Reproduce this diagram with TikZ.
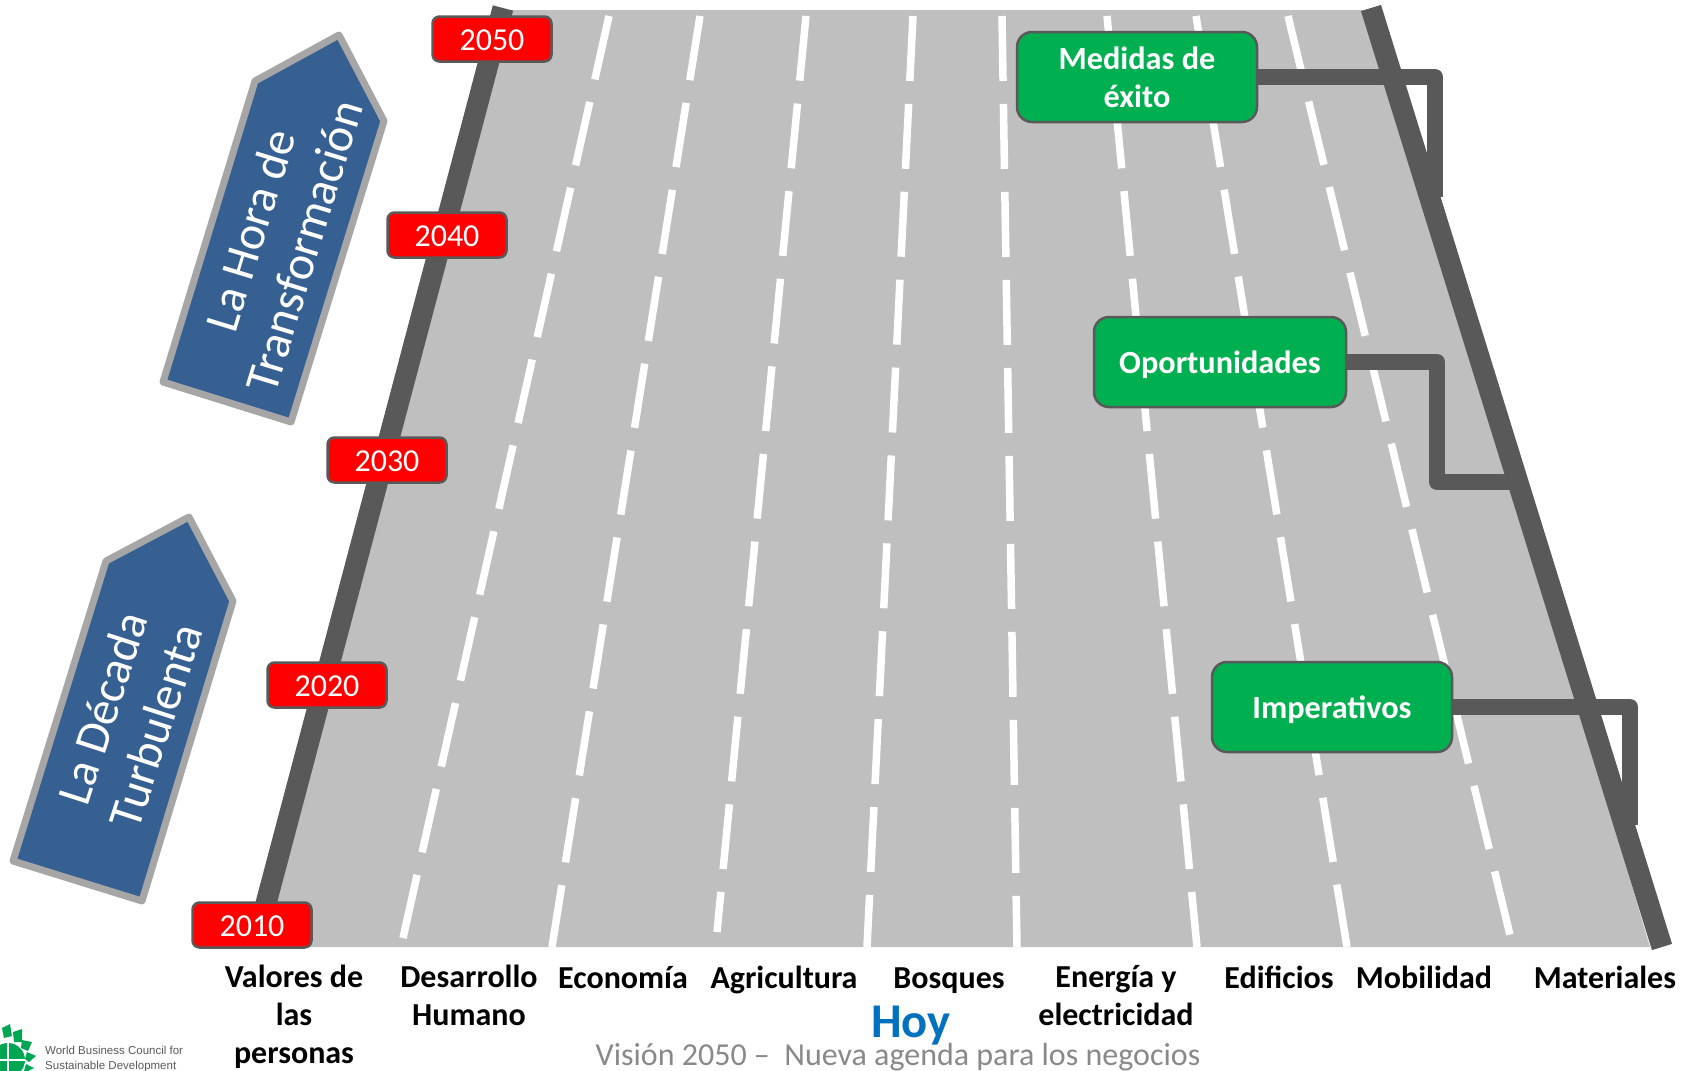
\documentclass[tikz,border=0pt]{standalone}
\usepackage{fontspec}
\usetikzlibrary{backgrounds}
\setmainfont{Carlito}
\newfontfamily\logofont{Liberation Sans}
\definecolor{road}{HTML}{BFBFBF}
\definecolor{edge}{HTML}{595959}
\definecolor{sign}{HTML}{00B050}
\definecolor{flag}{HTML}{376092}
\definecolor{flagedge}{HTML}{A6A6A6}
\definecolor{hoy}{HTML}{0070C0}
\definecolor{foot}{HTML}{898989}
\definecolor{leaf}{HTML}{00A651}
\begin{document}
\begin{tikzpicture}[x=1pt, y=-1pt,
	lane/.style = {draw=white, line width=7.5pt, dash pattern=on 65pt off 23pt},
	side/.style = {draw=edge, line width=21pt},
	link/.style = {draw=edge, line width=16pt, line join=round},
	year/.style = {draw=edge, fill=red, line width=2.5pt, rounded corners=7pt, minimum width=119pt, minimum height=45pt, inner sep=0pt, text height=22pt, text depth=0pt, text=white, font=\fontsize{32}{32}\selectfont},
	goal/.style = {draw=edge, fill=sign, line width=2.5pt, rounded corners=15pt, minimum height=90pt, inner sep=0pt, text depth=0pt, align=center, text=white, font=\fontsize{32.3}{38}\selectfont\bfseries},
	axis/.style = {anchor=north, align=center, inner sep=0pt, execute at begin node=\strut, font=\fontsize{32}{38}\selectfont\bfseries},
	flagbox/.style = {draw=flagedge, fill=flag, line width=7pt, line join=round},
	flagtext/.style = {align=center, inner sep=0pt, text=white, font=\fontsize{48}{56}\selectfont}]
	\useasboundingbox (0,0) rectangle (1690,1071);
	\node[goal, minimum width=240pt] (medidas) at (1137,77) {Medidas de\\éxito};
	\node[goal, minimum width=252pt] (oportunidades) at (1220,362) {Oportunidades};
	\node[goal, minimum width=240pt] (imperativos) at (1332,707) {Imperativos};
	\coordinate (medidasend) at (1435,197);
	\coordinate (oportunidadesbend) at (1437,482);
	\coordinate (oportunidadesend) at (1514,482);
	\coordinate (imperativosend) at (1630,825);
	\begin{pgfonlayer}{background}
		\fill[road] (494,10) -- (1371,10) -- (1650,947) -- (252,947) -- cycle;
		\draw[lane] (609,16) -- (403,938);
		\draw[lane] (700,16) -- (552,947);
		\draw[lane] (806,16) -- (717,932);
		\draw[lane] (913,16) -- (867,947);
		\draw[lane] (1002,16) -- (1017,947);
		\draw[lane] (1107,16) -- (1197,947);
		\draw[lane] (1196,16) -- (1347,947);
		\draw[lane] (1288,16) -- (1510,935);
		\draw[side] (503,8) -- (255,945);
		\draw[side] (1371,8) -- (1662,947);
		\draw[link] (medidas.east) -| (medidasend);
		\draw[link] (oportunidades.east) -| (oportunidadesbend) -- (oportunidadesend);
		\draw[link] (imperativos.east) -| (imperativosend);
	\end{pgfonlayer}
	\node[year] (y2050) at (492,39) {2050};
	\node[year] (y2040) at (447,235) {2040};
	\node[year] (y2030) at (387,460) {2030};
	\node[year] (y2020) at (327,685) {2020};
	\node[year] (y2010) at (252,925) {2010};
	\draw[flagbox] (339,35) -- (384,121) -- (291,422) -- (163,382) -- (255,81) -- cycle;
	\draw[flagbox] (189,517) -- (233,601) -- (142,901) -- (13,861) -- (106,561) -- cycle;
	\node[flagtext, rotate=73] (hora) at (277,238) {La Hora de\\Transformación};
	\node[flagtext, rotate=72] (decada) at (129,717) {La Década\\Turbulenta};
	\node[axis] (valores) at (294,965) {Valores de\\las\\personas};
	\node[axis] (desarrollo) at (469,965) {Desarrollo\\Humano};
	\node[axis] (economia) at (623,962) {Economía};
	\node[axis] (agricultura) at (784,962) {Agricultura};
	\node[axis] (bosques) at (949,962) {Bosques};
	\node[axis] (energia) at (1116,965) {Energía y\\electricidad};
	\node[axis] (edificios) at (1279,962) {Edificios};
	\node[axis] (mobilidad) at (1424,962) {Mobilidad};
	\node[axis] (materiales) at (1605,962) {Materiales};
	\node[inner sep=0pt, text=hoy, font=\fontsize{48.5}{48}\selectfont\bfseries] (today) at (911,1026) {Hoy};
	\node[inner sep=0pt, text=foot, font=\fontsize{32}{32}\selectfont] (vision) at (898,1057) {Visión 2050 –\ \ Nueva agenda para los negocios};
	\node[inner sep=0pt, anchor=west, align=left, text=edge, font=\fontsize{11.5}{15.5}\logofont] (wbcsd) at (45,1059) {World Business Council for\\Sustainable Development};
	\fill[leaf] (8,1060) circle (17);
	\draw[white, line width=1.5pt] (8,1043) -- (8,1077) (-9,1060) -- (25,1060);
	\fill[leaf] (2,1028) -- (10,1024) -- (12,1036) -- (4,1038) -- cycle;
	\fill[leaf] (13,1032) -- (22,1029) -- (22,1042) -- (14,1042) -- cycle;
	\fill[leaf] (22,1040) -- (32,1042) -- (28,1051) -- (21,1048) -- cycle;
	\fill[leaf] (27,1052) -- (36,1056) -- (29,1062) -- (25,1059) -- cycle;
	\fill[leaf] (26,1064) -- (34,1068) -- (28,1071) -- (24,1071) -- cycle;
\end{tikzpicture}
\end{document}
